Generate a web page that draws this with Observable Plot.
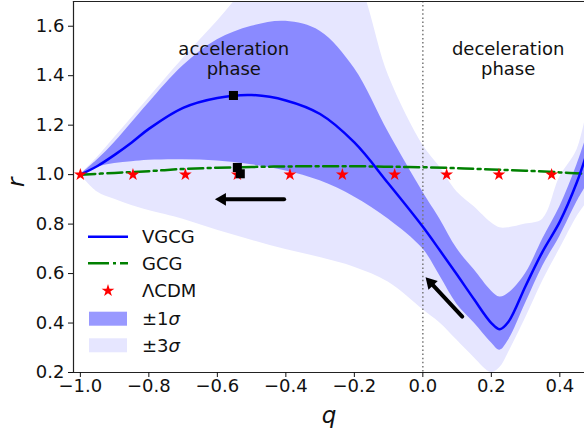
<!DOCTYPE html>
<html><head><meta charset="utf-8">
<script src="https://cdn.jsdelivr.net/npm/d3@7"></script>
<script src="https://cdn.jsdelivr.net/npm/@observablehq/plot@0.6"></script>
<style>
html,body{margin:0;padding:0;background:#fff;}
#wrap{position:relative;width:584px;height:433px;overflow:hidden;font-family:"DejaVu Sans";}
#legend{position:absolute;left:0;top:0;pointer-events:none;}
</style></head><body><div id="wrap"></div>
<script>
// ---- data ----
const q      = [-1.0, -0.95, -0.9, -0.85, -0.8, -0.7, -0.6, -0.5, -0.4, -0.3, -0.2, -0.1, 0.0, 0.05, 0.1, 0.15, 0.2, 0.225, 0.25, 0.3, 0.35, 0.4, 0.45, 0.475];
const vgcg   = [1.0, 1.035, 1.08, 1.13, 1.185, 1.27, 1.31, 1.322, 1.30, 1.245, 1.13, 0.963, 0.789, 0.693, 0.595, 0.495, 0.40, 0.375, 0.405, 0.55, 0.69, 0.81, 0.97, 1.07];
const sig1Lo = [1.0, 1.03, 1.045, 1.052, 1.058, 1.06, 1.055, 1.04, 1.015, 0.975, 0.91, 0.82, 0.70, 0.59, 0.475, 0.40, 0.32, 0.29, 0.33, 0.48, 0.63, 0.75, 0.89, 0.95];
const sig1Hi = [1.0, 1.06, 1.13, 1.21, 1.29, 1.44, 1.545, 1.60, 1.62, 1.58, 1.43, 1.17, 0.93, 0.82, 0.70, 0.615, 0.53, 0.505, 0.52, 0.60, 0.74, 0.87, 1.04, 1.14];
const sig3Lo = [1.0, 0.93, 0.90, 0.875, 0.855, 0.82, 0.775, 0.735, 0.697, 0.665, 0.626, 0.565, 0.455, 0.40, 0.33, 0.26, 0.20, 0.22, 0.28, 0.42, 0.57, 0.70, 0.83, 0.88];
const sig3Hi = [1.0, 1.07, 1.15, 1.23, 1.31, 1.47, 1.62, 1.78, 1.90, 1.95, 1.82, 1.40, 1.12, 1.03, 0.93, 0.87, 0.805, 0.785, 0.785, 0.80, 0.82, 0.99, 1.10, 1.23];

const gcgQ = [-1.0, -0.9, -0.8, -0.7, -0.6, -0.5, -0.4, -0.3, -0.2, -0.1, 0.0, 0.1, 0.2, 0.3, 0.4, 0.475];
const gcgR = [1.0, 1.007, 1.014, 1.023, 1.028, 1.031, 1.033, 1.034, 1.034, 1.032, 1.030, 1.026, 1.021, 1.016, 1.009, 1.004];

const lcdmQ = [-1.0, -0.8464, -0.6934, -0.5416, -0.388, -0.235, -0.0823, 0.0695, 0.2222, 0.376];
const lcdmR = [1.0, 1.0, 1.0, 1.0, 1.0, 1.0, 1.0, 1.0, 1.0, 1.0];

const markQ = [-0.553, -0.5416, -0.533];
const markR = [1.32, 1.029, 1.0035];

const arrowFromQ = [-0.405, 0.115];
const arrowFromR = [0.90, 0.426];
const arrowToQ   = [-0.607, 0.008];
const arrowToR   = [0.90, 0.585];

const phaseLabels = ["acceleration\nphase", "deceleration\nphase"];
const phaseQ = [-0.552, 0.249];
const phaseR = [1.47, 1.47];

const xTicks = [-1.0, -0.8, -0.6, -0.4, -0.2, 0.0, 0.2, 0.4];
const yTicks = [0.2, 0.4, 0.6, 0.8, 1.0, 1.2, 1.4, 1.6];

const legendLabels = ["VGCG", "GCG", "ΛCDM", "±1σ", "±3σ"];

// ---- tables ----
const bands = q.map((d, i) => ({q: d, v: vgcg[i], s1lo: sig1Lo[i], s1hi: sig1Hi[i], s3lo: sig3Lo[i], s3hi: sig3Hi[i]}));
const gcg = gcgQ.map((d, i) => ({q: d, r: gcgR[i]}));
const lcdm = lcdmQ.map((d, i) => ({q: d, r: lcdmR[i]}));
const marks = markQ.map((d, i) => ({q: d, r: markR[i]}));
const arrows = arrowFromQ.map((d, i) => ({x1: d, y1: arrowFromR[i], x2: arrowToQ[i], y2: arrowToR[i]}));
const phases = phaseLabels.map((t, i) => ({t, q: phaseQ[i], r: phaseR[i]}));

const fmt = d3.format(".1f");

// filled arrow heads: triangle centred 2/3 of its height behind the tip
const headH = 11;
const headR = Math.sqrt((Math.sqrt(3) / 4) * Math.pow(2 * headH / Math.sqrt(3), 2) / Math.PI);
const headOff = 2 * headH / 3;
function headMark(a, dirx, diry) {
  const n = Math.hypot(dirx, diry), ux = dirx / n, uy = diry / n;
  const ang = Math.atan2(ux, -uy) * 180 / Math.PI;
  return Plot.dot([a], {x: "x2", y: "y2", symbol: "triangle", fill: "black", stroke: "none",
    r: headR, rotate: ang, dx: -ux * headOff, dy: -uy * headOff});
}

const chart = Plot.plot({
  width: 584, height: 433,
  marginLeft: 73, marginRight: 0, marginTop: 1, marginBottom: 61,
  x: {domain: [-1.02, 0.472], label: null},
  y: {domain: [0.2, 1.7], label: null},
  style: {fontFamily: "DejaVu Sans", fontSize: "18px", background: "white", color: "#111"},
  marks: [
    Plot.areaY(bands, {x: "q", y1: "s3lo", y2: "s3hi", fill: "#e6e6ff", curve: "catmull-rom", clip: true}),
    Plot.areaY(bands, {x: "q", y1: "s1lo", y2: "s1hi", fill: "#0000ff", fillOpacity: 0.4, curve: "catmull-rom", clip: true}),
    Plot.ruleX([0], {stroke: "#777", strokeWidth: 1.5, strokeDasharray: "1.5,2.6"}),
    Plot.line(gcg, {x: "q", y: "r", stroke: "#008000", strokeWidth: 2.5, strokeDasharray: "15,4.5,3,4.5", curve: "catmull-rom", clip: true}),
    Plot.line(bands, {x: "q", y: "v", stroke: "#0000ff", strokeWidth: 2.5, curve: "catmull-rom", clip: true}),
    Plot.dot(lcdm, {x: "q", y: "r", symbol: "star", fill: "#ff0000", stroke: "none", r: 4}),
    Plot.dot(marks, {x: "q", y: "r", symbol: "square", fill: "black", stroke: "none", r: 5.1}),
    Plot.arrow(arrows, {x1: "x1", y1: "y1", x2: "x2", y2: "y2", stroke: "black", strokeWidth: 4, headLength: 0, insetEnd: 8, strokeLinecap: "round"}),
    headMark(arrows[0], -1, 0),
    headMark(arrows[1], -36.7, -39.3),
    Plot.text(phases, {x: "q", y: "r", text: "t", lineHeight: 1.12, fontSize: 18, fill: "#111"}),
    Plot.frame({anchor: "left", stroke: "#222", strokeWidth: 1.2}),
    Plot.frame({anchor: "bottom", stroke: "#222", strokeWidth: 1.2}),
    Plot.frame({anchor: "top", stroke: "#222", strokeWidth: 1.2}),
    Plot.axisX({ticks: xTicks, tickSize: 5, tickPadding: 2, tickFormat: fmt, label: null}),
    Plot.axisY({ticks: yTicks, tickSize: 5, tickPadding: 4, tickFormat: fmt, label: null}),
    Plot.text(["q"], {text: d => d, frameAnchor: "bottom", dy: 50, fontSize: 23, fontStyle: "italic"}),
    Plot.text(["r"], {text: d => d, frameAnchor: "left", dx: -57, rotate: -90, fontSize: 23, fontStyle: "italic"})
  ]
});

const wrap = document.getElementById("wrap");
wrap.appendChild(chart);

// ---- legend overlay ----
const rows = [236.7, 263.3, 290.7, 318.7, 345.3];
const starPath = d3.symbol(d3.symbolStar, Math.PI * 4 * 4)();
const lg = d3.select(wrap).append("svg").attr("id", "legend").attr("width", 584).attr("height", 433);
lg.append("line").attr("x1", 88).attr("x2", 128).attr("y1", rows[0]).attr("y2", rows[0]).attr("stroke", "#0000ff").attr("stroke-width", 2.5);
lg.append("line").attr("x1", 88).attr("x2", 128).attr("y1", rows[1]).attr("y2", rows[1]).attr("stroke", "#008000").attr("stroke-width", 2.5).attr("stroke-dasharray", "21,4,3,4");
lg.append("path").attr("d", starPath).attr("transform", `translate(108,${rows[2]})`).attr("fill", "#ff0000");
lg.append("rect").attr("x", 89).attr("y", rows[3] - 7).attr("width", 38).attr("height", 14).attr("fill", "#9999ff");
lg.append("rect").attr("x", 89).attr("y", rows[4] - 7).attr("width", 38).attr("height", 14).attr("fill", "#e6e6ff");
legendLabels.forEach((t, i) => {
  const tx = lg.append("text").attr("x", 142).attr("y", rows[i] + 6.5)
    .attr("font-family", "DejaVu Sans").attr("font-size", 18).attr("fill", "#111");
  if (t.endsWith("σ")) {
    tx.append("tspan").text(t.slice(0, -1));
    tx.append("tspan").attr("font-style", "italic").text("σ");
  } else tx.text(t);
});
</script></body></html>
